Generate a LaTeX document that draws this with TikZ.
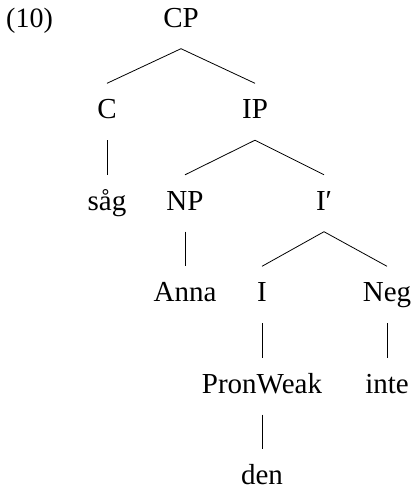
\documentclass[tikz,border=0pt]{standalone}
\usepackage{fontspec}
\setmainfont{Liberation Serif}
\begin{document}
\begin{tikzpicture}[x=1pt,y=-1pt,
  lbl/.style={inner sep=0pt,anchor=base,font=\fontsize{29}{33}\selectfont,
    text height=35pt,text depth=21.5pt},
  br/.style={line width=0.8pt}]
\useasboundingbox (0,0) rectangle (412,490);
\node[inner sep=0pt,anchor=base west,font=\fontsize{28}{32}\selectfont] (ex) at (6,27) {(10)};
\node[lbl] (cp) at (181,27) {CP};
\node[lbl] (c) at (107,118.5) {C};
\node[lbl] (ip) at (255,118.5) {IP};
\node[lbl] (sag) at (107,210) {såg};
\node[lbl] (np) at (185,210) {NP};
\node[lbl] (ib) at (324,210) {I′};
\node[lbl] (anna) at (185,301.5) {Anna};
\node[lbl] (i) at (262,301.5) {I};
\node[lbl] (neg) at (387,301.5) {Neg};
\node[lbl] (pw) at (262,393) {PronWeak};
\node[lbl] (inte) at (387,393) {inte};
\node[lbl] (den) at (262,484.5) {den};
\draw[br] (cp.south) -- (c.north);
\draw[br] (cp.south) -- (ip.north);
\draw[br] (c.south) -- (sag.north);
\draw[br] (ip.south) -- (np.north);
\draw[br] (ip.south) -- (ib.north);
\draw[br] (np.south) -- (anna.north);
\draw[br] (ib.south) -- (i.north);
\draw[br] (ib.south) -- (neg.north);
\draw[br] (i.south) -- (pw.north);
\draw[br] (neg.south) -- (inte.north);
\draw[br] (pw.south) -- (den.north);
\end{tikzpicture}
\end{document}
